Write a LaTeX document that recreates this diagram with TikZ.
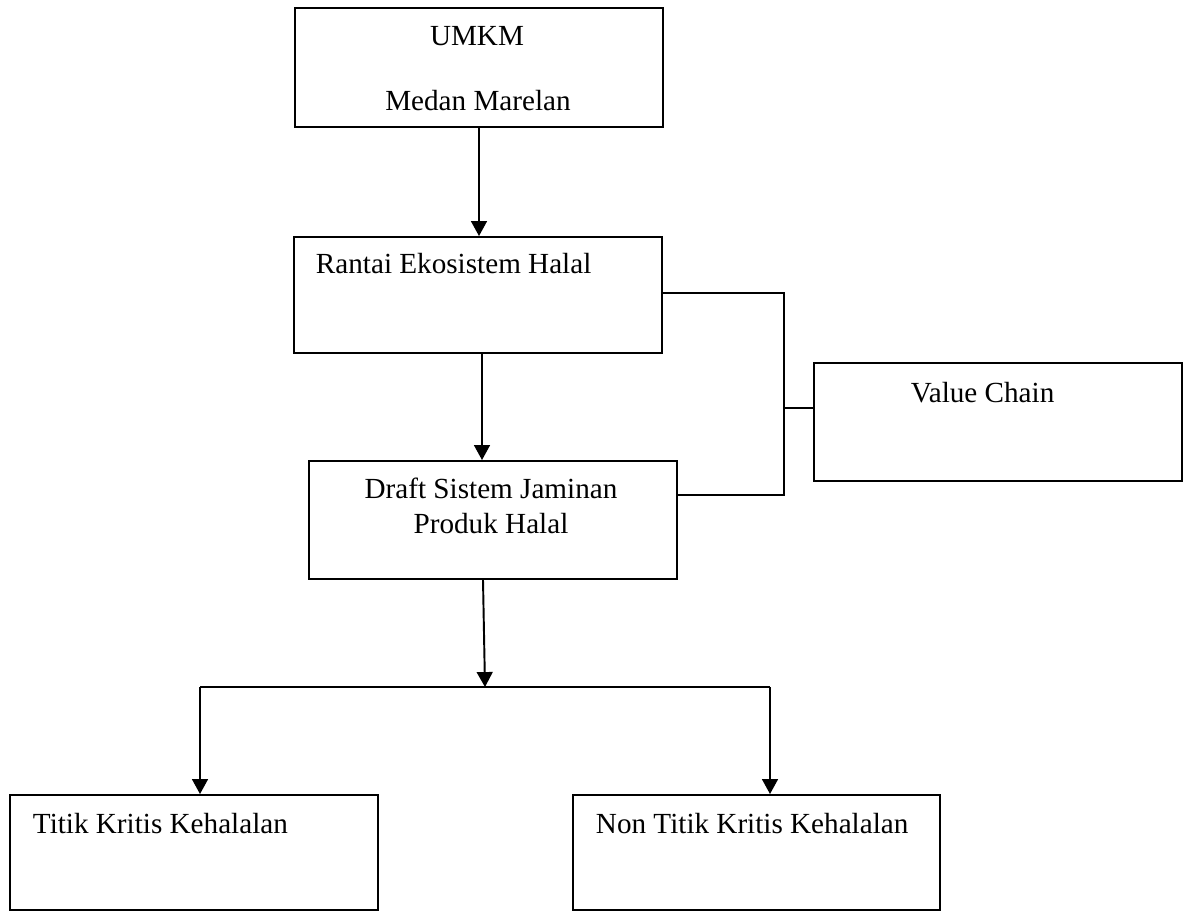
\documentclass[tikz,border=0pt]{standalone}
\usepackage{fontspec}
\setmainfont{Liberation Serif}
\usetikzlibrary{arrows.meta,fit}
\begin{document}
\begin{tikzpicture}[x=0.02cm, y=-0.02cm, line width=1.1pt,
    box/.style={draw, rectangle, inner sep=0pt, line width=1.1pt},
    lbl/.style={inner sep=0pt, font=\fontsize{16.6}{19}\selectfont},
    arr/.style={-{Triangle[length=8.5pt, width=9pt]}}]
  \useasboundingbox (0,0) rectangle (1190,914);

  % boxes
  \node[box, fit={(295,8) (663,127)}]    (umkm)     {};
  \node[box, fit={(294,237) (662,353)}]  (rantai)   {};
  \node[box, fit={(814,363) (1182,481)}] (value)    {};
  \node[box, fit={(309,461) (677,579)}]  (draft)    {};
  \node[box, fit={(10,795) (378,910)}]   (titik)    {};
  \node[box, fit={(573,795) (940,910)}]  (nontitik) {};

  % texts
  \node[lbl, anchor=base]      at (477,45)  (umkmA)  {UMKM};
  \node[lbl, anchor=base]      at (478,110) (umkmB)  {Medan Marelan};
  \node[lbl, anchor=base west] at (315,273) (rantaiT) {Rantai Ekosistem Halal};
  \node[lbl, anchor=base west] at (910,402) (valueT) {Value Chain};
  \node[lbl, anchor=base]      at (491,498) (draftA) {Draft Sistem Jaminan};
  \node[lbl, anchor=base]      at (491,533) (draftB) {Produk Halal};
  \node[lbl, anchor=base west] at (32,833)  (titikT) {Titik Kritis Kehalalan};
  \node[lbl, anchor=base west] at (595,833) (nontitikT) {Non Titik Kritis Kehalalan};

  % helper points
  \coordinate (s1) at (479,0);
  \coordinate (s2) at (482,0);
  \coordinate (s3) at (483,0);
  \coordinate (fork)  at (485,687);
  \coordinate (forkL) at (200,687);
  \coordinate (forkR) at (770,687);
  \coordinate (jt) at (784,293);
  \coordinate (jm) at (784,408);
  \coordinate (jb) at (784,495);

  % main flow
  \draw[arr] (umkm.south -| s1) -- (rantai.north -| s1);
  \draw[arr] (rantai.south -| s2) -- (draft.north -| s2);
  \draw[arr] (draft.south -| s3) -- (fork);
  \draw (forkL) -- (forkR);
  \draw[arr] (forkL) -- (titik.north -| forkL);
  \draw[arr] (forkR) -- (nontitik.north -| forkR);

  % value chain bracket
  \draw (jt -| rantai.east) -- (jt) -- (jb) -- (jb -| draft.east);
  \draw (jm) -- (jm -| value.west);
\end{tikzpicture}
\end{document}
